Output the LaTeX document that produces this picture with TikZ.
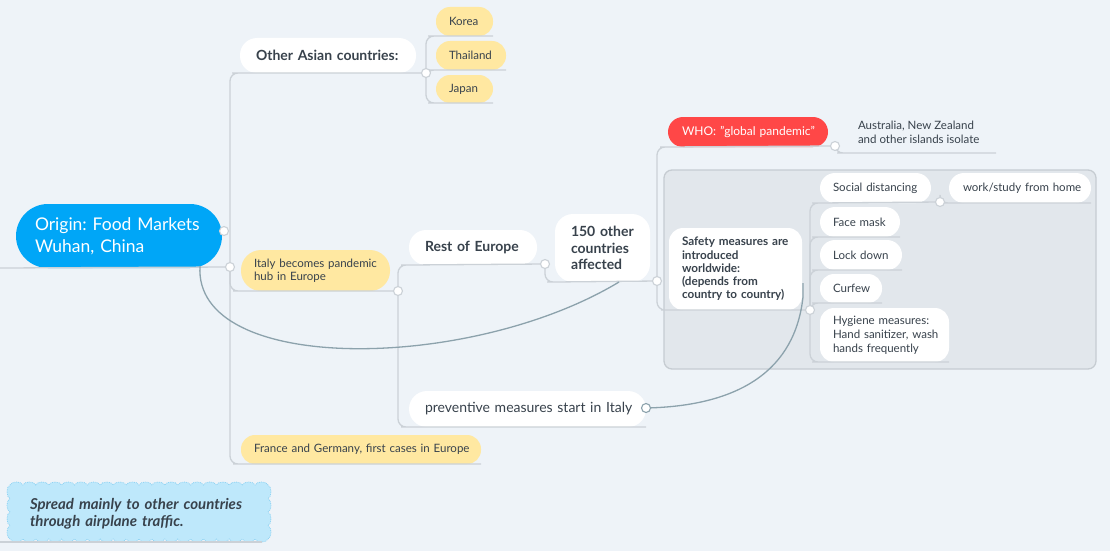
\documentclass[tikz,border=0pt]{standalone}
\usepackage{fontspec}
\setmainfont{Lato}
\frenchspacing
\definecolor{bg}{HTML}{EEF3F8}
\definecolor{linec}{HTML}{CBD1D7}
\definecolor{relc}{HTML}{8CA2AC}
\definecolor{txt}{HTML}{38424C}
\definecolor{yel}{HTML}{FFE8A1}
\definecolor{rootblue}{HTML}{00A6F7}
\definecolor{whored}{HTML}{FF4747}
\definecolor{boxfill}{HTML}{E2E7EC}
\definecolor{boxline}{HTML}{C6CCD2}
\definecolor{cloudfill}{HTML}{BEE8FB}
\definecolor{cloudline}{HTML}{8DD2F3}
\tikzset{
  box/.style={anchor=north west, inner ysep=0pt, align=left, text=txt, outer sep=0pt},
  wp/.style={box, fill=white},
  yp/.style={box, fill=yel},
  fs/.style={font=\fontsize{11.5}{14}\selectfont},
  fb/.style={font=\fontsize{14}{16.5}\selectfont\bfseries},
  jn/.style={circle, draw=linec, fill=white, line width=1.1pt, inner sep=0pt, minimum size=9pt},
  link/.style={draw=linec, line width=1.3pt, rounded corners=8pt},
  rel/.style={draw=relc, line width=1.3pt},
}
\begin{document}
\begin{tikzpicture}[x=1pt,y=-1pt]
\useasboundingbox (0,0) rectangle (1110,551);
\fill[bg] (0,0) rectangle (1110,551);

% grey boundary
\draw[fill=boxfill, draw=boxline, line width=1.3pt, rounded corners=8pt] (664,170) rectangle (1096,369);

% nodes
\node[box, fill=rootblue, text=white, text width=168pt, inner xsep=19pt, minimum height=64pt, rounded corners=32pt,
  font=\fontsize{17.5}{22.5}\selectfont] (root) at (16,204) {\mbox{Origin: Food Markets}\\\mbox{Wuhan, China}};
\node[wp, fb, text width=144pt, inner xsep=16pt, minimum height=35pt, rounded corners=17pt] (asia) at (240,38) {\mbox{Other Asian countries:}};
\node[yp, fs, text width=31pt, inner xsep=13pt, minimum height=29pt, rounded corners=14pt] (korea) at (436,7) {\mbox{Korea}};
\node[yp, fs, text width=44pt, inner xsep=13pt, minimum height=29pt, rounded corners=14pt] (thai) at (436,41) {\mbox{Thailand}};
\node[yp, fs, text width=31pt, inner xsep=13pt, minimum height=28pt, rounded corners=14pt] (japan) at (436,75) {\mbox{Japan}};
\node[yp, font=\fontsize{11.5}{13}\selectfont, text width=123pt, inner xsep=13pt, minimum height=41pt, rounded corners=20pt] (italy) at (241,250) {\mbox{Italy becomes pandemic}\\\mbox{hub in Europe}};
\node[wp, fb, text width=96pt, inner xsep=16pt, minimum height=35pt, rounded corners=17pt] (rest) at (409,230) {\mbox{Rest of Europe}};
\node[wp, fb, text width=63pt, inner xsep=16pt, minimum height=68pt, rounded corners=18pt] (c150) at (555,214) {\mbox{150 other}\\\mbox{countries}\\\mbox{affected}};
\node[box, fill=whored, text=white, font=\fontsize{12}{14}\selectfont, text width=132pt, inner xsep=14pt, minimum height=30pt, rounded corners=15pt] (who) at (668,117) {\mbox{WHO: "global pandemic"}};
\node[box, font=\fontsize{11.5}{14.5}\selectfont, inner sep=0pt] (aus) at (858,121) {Australia, New Zealand\\and other islands isolate};
\node[wp, font=\fontsize{11.7}{13.2}\selectfont\bfseries, text width=107pt, inner xsep=13pt, minimum height=82pt, rounded corners=14pt] (safety) at (669,228) {\mbox{Safety measures are}\\\mbox{introduced}\\\mbox{worldwide:}\\\mbox{(depends from}\\\mbox{country to country)}};
\node[wp, fs, text width=85pt, inner xsep=13pt, minimum height=30pt, rounded corners=15pt] (social) at (820,173) {\mbox{Social distancing}};
\node[wp, fs, text width=114pt, inner xsep=14pt, minimum height=30pt, rounded corners=15pt] (work) at (949,173) {\mbox{work/study from home}};
\node[wp, fs, text width=54pt, inner xsep=13pt, minimum height=30pt, rounded corners=15pt] (face) at (820,207) {\mbox{Face mask}};
\node[wp, fs, text width=56pt, inner xsep=13pt, minimum height=30pt, rounded corners=15pt] (lock) at (820,240) {\mbox{Lock down}};
\node[wp, fs, text width=36pt, inner xsep=13pt, minimum height=29pt, rounded corners=14pt] (curfew) at (820,274) {\mbox{Curfew}};
\node[wp, fs, text width=103pt, inner xsep=13pt, minimum height=54pt, rounded corners=14pt] (hyg) at (820,308) {\mbox{Hygiene measures:}\\\mbox{Hand sanitizer, wash}\\\mbox{hands frequently}};
\node[wp, font=\fontsize{14}{16}\selectfont, text width=205pt, inner xsep=16pt, minimum height=36pt, rounded corners=18pt] (prev) at (409,391) {\mbox{preventive measures start in Italy}};
\node[yp, fs, text width=214pt, inner xsep=13pt, minimum height=29pt, rounded corners=14pt] (france) at (241,435) {\mbox{France and Germany, first cases in Europe}};

% cloud note (scalloped outline)
\path[fill=cloudfill, draw=cloudline, densely dotted, line width=0.8pt]
  (10,485)
  foreach \i in {0,...,19} { .. controls ({10+12.9*\i+1.5},481) and ({10+12.9*(\i+1)-1.5},481) .. ({10+12.9*(\i+1)},485) }
  foreach \i in {0,...,3} { .. controls (272,{485+13.5*\i+1.5}) and (272,{485+13.5*(\i+1)-1.5}) .. (268,{485+13.5*(\i+1)}) }
  foreach \i in {0,...,19} { .. controls ({268-12.9*\i-1.5},543) and ({268-12.9*(\i+1)+1.5},543) .. ({268-12.9*(\i+1)},539) }
  foreach \i in {0,...,3} { .. controls (6,{539-13.5*\i-1.5}) and (6,{539-13.5*(\i+1)+1.5}) .. (10,{539-13.5*(\i+1)}) }
  -- cycle;
\node[box, font=\fontsize{15}{17.5}\selectfont\bfseries\itshape, text width=218pt, inner xsep=22pt, minimum height=60pt] (note) at (8,484) {\mbox{Spread mainly to other countries}\\\mbox{through airplane traffic.}};

% junction coordinates
\coordinate (J0) at (230,267);
\coordinate (J1) at (426,73);
\coordinate (J2) at (398,291);
\coordinate (J3) at (545,264);
\coordinate (J4) at (657,281);
\coordinate (J5) at (835,146);
\coordinate (J7) at (810,310);
\coordinate (J8) at (940,202);
\coordinate (J6) at (646,408);
\coordinate (RC) at (224,231);
\coordinate (rootL) at (0,268);
\coordinate (ausL) at (845,153);
\coordinate (ausR) at (996,153);
\coordinate (noteL) at (0,542);
\coordinate (noteR) at (262,542);

% tree links
\draw[link] (rootL) -- (J0);
\draw[link] (J0) |- (asia.south west) -- (J1);
\draw[link] (J0) |- (italy.south west) -- (J2);
\draw[link] (J0) |- (france.south west) -- (france.south east);
\draw[link] (J1) |- (korea.south west) -- (korea.south east);
\draw[link] (J1) |- (thai.south west) -- (thai.south east);
\draw[link] (J1) |- (japan.south west) -- (japan.south east);
\draw[link] (J2) |- (rest.south west) -- (J3);
\draw[link] (J2) |- (prev.south west) -- (prev.south east);
\draw[link] (J3) |- (c150.south west) -- (J4);
\draw[link] (J4) |- (who.south west) -- (J5);
\draw[link] (J4) |- (safety.south west) -- (J7);
\draw[link] (J5) |- (ausL) -- (ausR);
\draw[link] (J7) |- (social.south west) -- (J8);
\draw[link] (J8) |- (work.south west) -- (work.south east);
\draw[link] (J7) |- (face.south west) -- (face.south east);
\draw[link] (J7) |- (lock.south west) -- (lock.south east);
\draw[link] (J7) |- (curfew.south west) -- (curfew.south east);
\draw[link] (J7) |- (hyg.south west) -- (hyg.south east);
\draw[link] (noteL) -- (noteR);

% relationships
\coordinate (r1s) at (200,266);
\coordinate (r1e) at (619,282);
\draw[rel] (r1s) .. controls (193,375) and (470,372) .. (r1e);
\coordinate (r2e) at (803,297);
\coordinate (r2t) at (803,283);
\draw[rel] (J6) .. controls (740,406) and (795,370) .. (r2e) -- (r2t);

% junction circles
\foreach \p/\n in {J0/j0, J1/j1, J2/j2, J3/j3, J4/j4, J5/j5, J7/j7, J8/j8, RC/rc}
  \node[jn] (\n) at (\p) {};
\node[jn, draw=relc] (j6) at (J6) {};
\end{tikzpicture}
\end{document}
